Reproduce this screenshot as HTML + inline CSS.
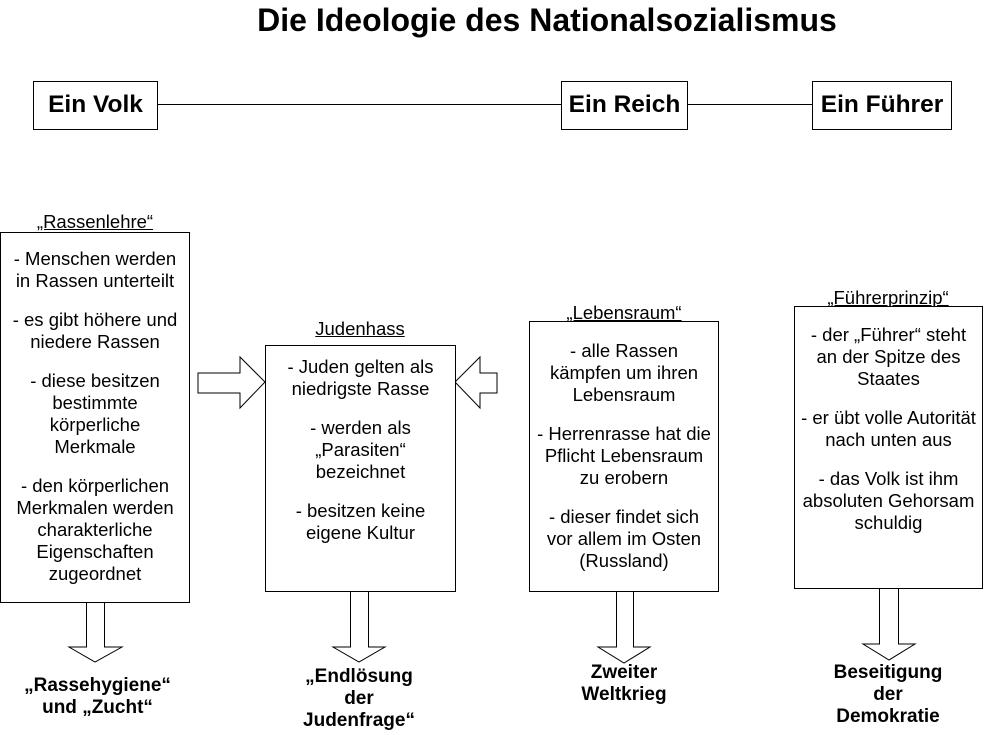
<!DOCTYPE html>
<html><head><meta charset="utf-8"><style>
body{margin:0;width:984px;height:735px;background:#fff;position:relative;overflow:hidden;font-family:"Liberation Sans",Arial,sans-serif;color:#000}
.a{position:absolute}
.t{position:absolute;text-align:center;font-size:18.5px;line-height:22px}
.b{position:absolute;border:1px solid #000;box-sizing:border-box;background:#fff}
.h{position:absolute;font-size:24.5px;font-weight:bold;text-align:center;line-height:46px}
.lab{position:absolute;text-align:center;font-size:18.5px;text-decoration:underline}
.bt{position:absolute;text-align:center;font-size:19px;font-weight:bold;line-height:22px}
p{margin:0 0 17px 0}
</style></head><body>
<div class="a" style="left:0;width:1094px;top:2px;text-align:center;font-size:32px;font-weight:bold">Die Ideologie des Nationalsozialismus</div>
<svg class="a" style="left:0;top:0" width="984" height="735">
<g stroke="#000" stroke-width="1" fill="#fff">
<line x1="157" y1="104.5" x2="561" y2="104.5"/>
<line x1="687" y1="104.5" x2="812" y2="104.5"/>
<polygon points="198,373 240,373 240,357 265,382 240,408 240,393 198,393"/>
<polygon points="497,373 480,373 480,357 455,382 480,408 480,393 497,393"/>
<polygon points="86.5,602 104.5,602 104.5,647 122,647 95,662 69,647 86.5,647"/>
<polygon points="350.5,591 368.5,591 368.5,647 385,647 359,662 333,647 350.5,647"/>
<polygon points="616.5,591 633.5,591 633.5,647 650,647 624,663 598,647 616.5,647"/>
<polygon points="879.5,588 898.5,588 898.5,644 915,644 889,660 863,644 879.5,644"/>
</g></svg>
<div class="b" style="left:33px;top:81px;width:125px;height:49px"></div><div class="h" style="left:33px;top:82px;width:125px">Ein Volk</div>
<div class="b" style="left:561px;top:81px;width:127px;height:49px"></div><div class="h" style="left:561px;top:82px;width:127px">Ein Reich</div>
<div class="b" style="left:812px;top:81px;width:140px;height:49px"></div><div class="h" style="left:812px;top:82px;width:140px">Ein Führer</div>

<div class="lab" style="left:0;width:190px;top:211px">„Rassenlehre“</div>
<div class="b" style="left:0;top:232px;width:190px;height:371px"></div>
<div class="t" style="left:0;width:190px;top:248px"><p>- Menschen werden<br>in Rassen unterteilt</p><p>- es gibt höhere und<br>niedere Rassen</p><p>- diese besitzen<br>bestimmte<br>körperliche<br>Merkmale</p><p>- den körperlichen<br>Merkmalen werden<br>charakterliche<br>Eigenschaften<br>zugeordnet</p></div>

<div class="lab" style="left:265px;width:190px;top:318px">Judenhass</div>
<div class="b" style="left:265px;top:345px;width:191px;height:247px"></div>
<div class="t" style="left:265px;width:191px;top:356px"><p>- Juden gelten als<br>niedrigste Rasse</p><p>- werden als<br>„Parasiten“<br>bezeichnet</p><p>- besitzen keine<br>eigene Kultur</p></div>

<div class="lab" style="left:529px;width:190px;top:302px">„Lebensraum“</div>
<div class="b" style="left:529px;top:321px;width:190px;height:271px"></div>
<div class="t" style="left:529px;width:190px;top:340px"><p>- alle Rassen<br>kämpfen um ihren<br>Lebensraum</p><p>- Herrenrasse hat die<br>Pflicht Lebensraum<br>zu erobern</p><p>- dieser findet sich<br>vor allem im Osten<br>(Russland)</p></div>

<div class="lab" style="left:794px;width:188px;top:287px">„Führerprinzip“</div>
<div class="b" style="left:794px;top:306px;width:189px;height:283px"></div>
<div class="t" style="left:794px;width:189px;top:324px"><p>- der „Führer“ steht<br>an der Spitze des<br>Staates</p><p>- er übt volle Autorität<br>nach unten aus</p><p>- das Volk ist ihm<br>absoluten Gehorsam<br>schuldig</p></div>

<div class="bt" style="left:0;width:195px;top:675px">„Rassehygiene“<br>und „Zucht“</div>
<div class="bt" style="left:264px;width:190px;top:666px">„Endlösung<br>der<br>Judenfrage“</div>
<div class="bt" style="left:529px;width:190px;top:662px">Zweiter<br>Weltkrieg</div>
<div class="bt" style="left:794px;width:188px;top:662px">Beseitigung<br>der<br>Demokratie</div>
</body></html>
